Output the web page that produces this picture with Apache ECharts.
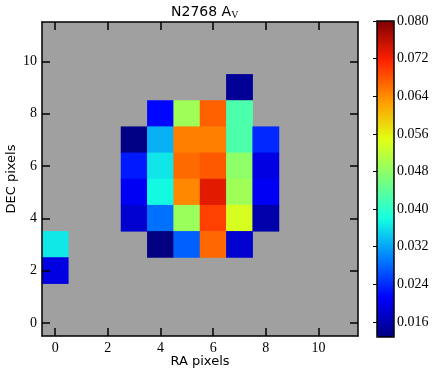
<!DOCTYPE html>
<html>
<head>
<meta charset="utf-8">
<script src="https://cdn.jsdelivr.net/npm/echarts@6/dist/echarts.min.js"></script>
<style>
  html, body { margin: 0; padding: 0; background: #fff; }
  #chart { width: 436px; height: 378px; }
</style>
</head>
<body>
<div id="chart"></div>
<script>
// pixel grid 0..11 in both directions
const raCats = ['0', '1', '2', '3', '4', '5', '6', '7', '8', '9', '10', '11']
const decCats = ['0', '1', '2', '3', '4', '5', '6', '7', '8', '9', '10', '11']

// A_V per pixel (column / row / value)
const raPix = [7, 4, 5, 6, 7, 3, 4, 5, 6, 7, 8, 3, 4, 5, 6, 7, 8, 3, 4, 5, 6, 7, 8, 3, 4, 5, 6, 7, 8, 4, 5, 6, 7, 0, 0]
const decPix = [9, 8, 8, 8, 8, 7, 7, 7, 7, 7, 7, 6, 6, 6, 6, 6, 6, 5, 5, 5, 5, 5, 5, 4, 4, 4, 4, 4, 4, 3, 3, 3, 3, 3, 2]
const avValues = [
  0.0143, 0.0215, 0.0494, 0.0671, 0.0426,
  0.0131, 0.0328, 0.0649, 0.0649, 0.0426, 0.0238,
  0.0229, 0.0363, 0.0664, 0.0676, 0.0480, 0.0193,
  0.0205, 0.0377, 0.0643, 0.0735, 0.0494, 0.0205,
  0.0180, 0.0286, 0.0490, 0.0694, 0.0538, 0.0156,
  0.0128, 0.0275, 0.0666, 0.0180,
  0.0365, 0.0193
]

const avMin = 0.0128
const avMax = 0.080
const cbTicks = [0.016, 0.024, 0.032, 0.040, 0.048, 0.056, 0.064, 0.072, 0.080]

const jet = ['#000080', '#0000ff', '#0080ff', '#14ffe2', '#7bff7b', '#e2ff14', '#ff9700', '#ff2100', '#800000']

const cells = raPix.map((x, i) => [x, decPix[i], avValues[i]])

const tickFont = { fontFamily: 'Liberation Serif', fontSize: 14, color: '#000' }
const nameFont = { fontFamily: 'DejaVu Sans', fontSize: 13, color: '#000' }
const frame = { show: true, lineStyle: { color: '#000', width: 1.5 } }
const tick = { show: true, inside: true, length: 8, alignWithLabel: true, interval: 1, lineStyle: { color: '#000', width: 1.5 } }

const catAxis = (cats, position, extra) => Object.assign({
  type: 'category',
  data: cats,
  position: position,
  boundaryGap: true,
  z: 5,
  axisLine: frame,
  axisTick: tick,
  axisLabel: { show: false },
  splitLine: { show: false }
}, extra)

const option = {
  animation: false,
  title: {
    text: 'N2768 A{v|V}',
    left: 166,
    top: -1,
    textStyle: {
      fontFamily: 'DejaVu Sans',
      fontSize: 14,
      fontWeight: 'normal',
      color: '#000',
      rich: {
        v: { fontFamily: 'Liberation Serif', fontSize: 10, color: '#000', padding: [6, 0, 0, 0] }
      }
    }
  },
  grid: [
    { left: 42, top: 22, width: 316, height: 314, outerBoundsMode: 'none', show: true, backgroundColor: '#a0a0a0', borderWidth: 0 },
    { left: 377, top: 21, width: 17, height: 316, outerBoundsMode: 'none', show: true, z: 10, backgroundColor: 'transparent', borderColor: '#000', borderWidth: 1.5 }
  ],
  xAxis: [
    catAxis(raCats, 'bottom', {
      gridIndex: 0,
      name: 'RA pixels',
      nameLocation: 'middle',
      nameGap: 19,
      nameMoveOverlap: false,
      nameTextStyle: nameFont,
      axisLabel: Object.assign({ show: true, interval: 1, margin: 5 }, tickFont)
    }),
    catAxis(raCats, 'top', { gridIndex: 0 }),
    { type: 'value', gridIndex: 1, show: false, min: 0, max: 1 }
  ],
  yAxis: [
    catAxis(decCats, 'left', {
      gridIndex: 0,
      name: 'DEC pixels',
      nameLocation: 'middle',
      nameGap: 24,
      nameMoveOverlap: false,
      nameTextStyle: nameFont,
      axisLabel: Object.assign({ show: true, interval: 1, margin: 5 }, tickFont)
    }),
    catAxis(decCats, 'right', { gridIndex: 0 }),
    {
      type: 'value',
      gridIndex: 1,
      position: 'right',
      min: avMin,
      max: avMax,
      z: 12,
      axisLine: { show: false },
      splitLine: { show: false },
      axisTick: {
        show: true,
        inside: true,
        length: 4,
        customValues: cbTicks,
        lineStyle: { color: '#000', width: 1 }
      },
      axisLabel: Object.assign({
        show: true,
        margin: 3,
        customValues: cbTicks,
        formatter: v => v.toFixed(3)
      }, tickFont)
    }
  ],
  visualMap: {
    type: 'continuous',
    min: avMin,
    max: avMax,
    seriesIndex: 0,
    orient: 'vertical',
    left: 377,
    top: 21,
    padding: 0,
    itemWidth: 17,
    itemHeight: 316,
    calculable: false,
    hoverLink: false,
    z: 4,
    inRange: { color: jet }
  },
  series: [{
    type: 'heatmap',
    xAxisIndex: 0,
    yAxisIndex: 0,
    data: cells,
    itemStyle: { borderWidth: 0 }
  }]
}

const chart = echarts.init(document.getElementById('chart'), null, { renderer: 'canvas' })
chart.setOption(option)
</script>
</body>
</html>
